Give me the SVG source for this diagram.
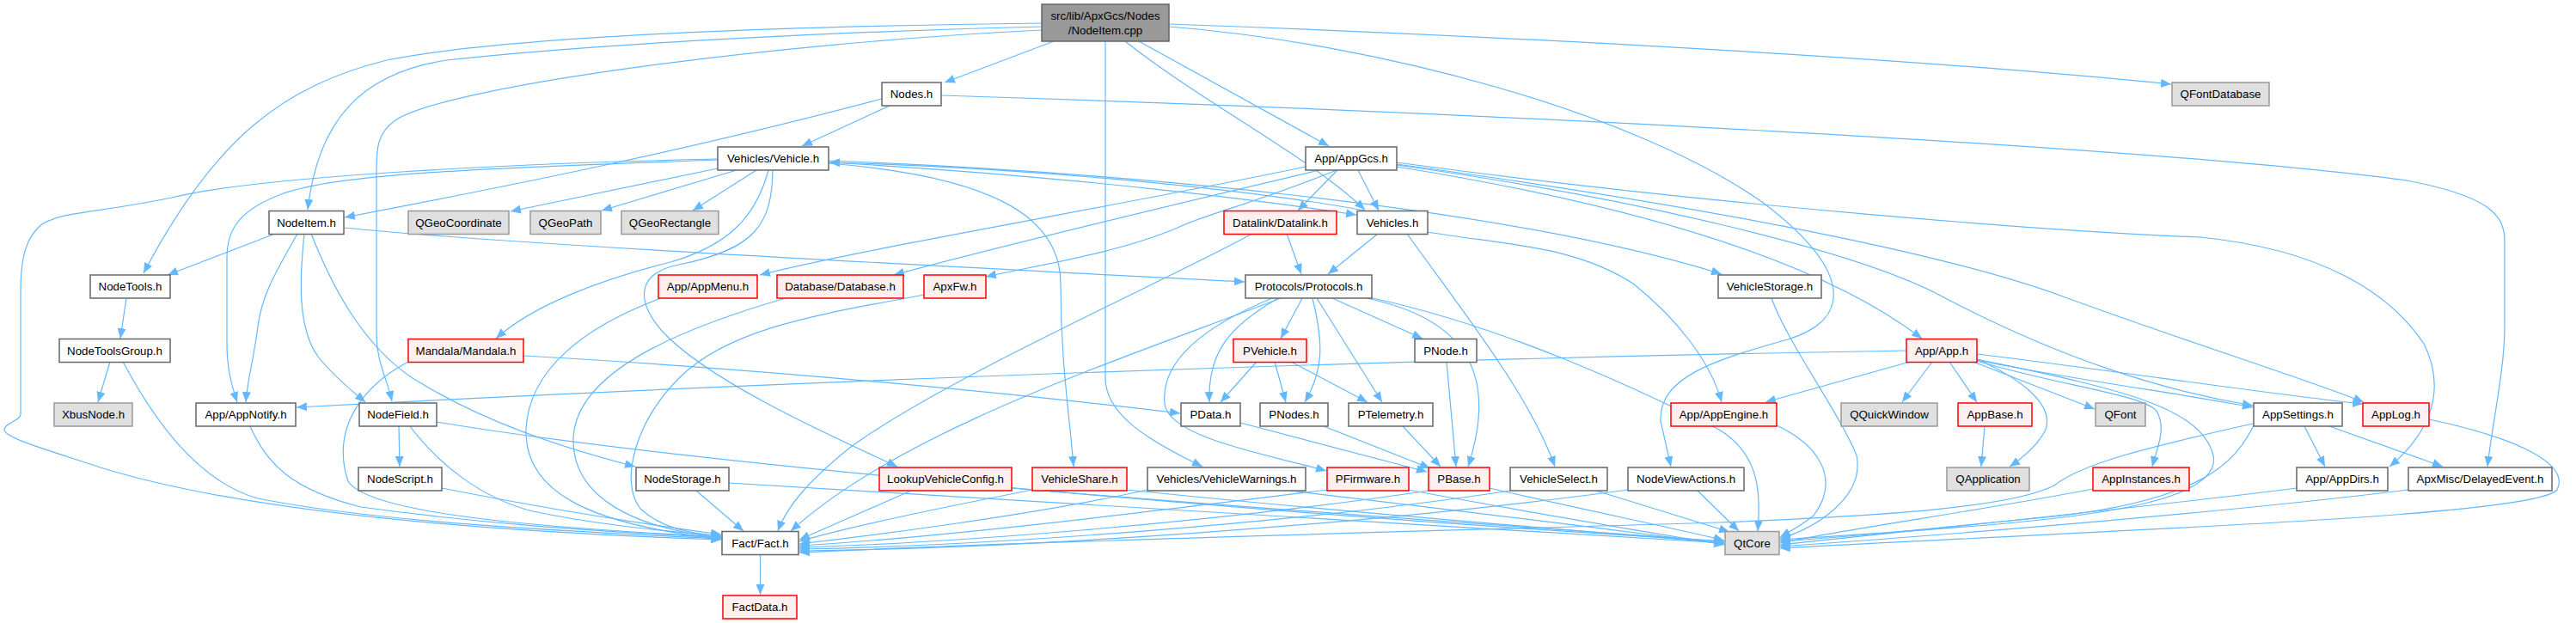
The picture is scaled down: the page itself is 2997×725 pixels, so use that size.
<svg xmlns="http://www.w3.org/2000/svg" width="2997" height="725" viewBox="0 0 2997 725">
<defs>
<marker id="a" markerUnits="userSpaceOnUse" markerWidth="12" markerHeight="10" viewBox="0 0 12 10" refX="12" refY="5" orient="auto"><path d="M0,0 L12,5 L0,10 z" fill="#63b8ff"/></marker>
<style>
rect{fill:#fff;stroke:#666;stroke-width:1.5}
.r rect{fill:#fff0f0;stroke:#ff0000}
.g rect{fill:#e0e0e0;stroke:#999}
.m rect{fill:#999;stroke:#666}
text{font-family:"Liberation Sans",Arial,Helvetica,sans-serif;font-size:13.3px;fill:#000;text-anchor:middle}
#edges path{fill:none;stroke:#63b8ff;stroke-width:1.2;marker-end:url(#a)}
</style>
</defs>
<rect x="0" y="0" width="2997" height="725" style="fill:#fff;stroke:none"/>
<g id="edges">
<path d="M1212,31 C1000,36 700,50 520,70 C420,85 370,140 358,244"/>
<path d="M1212,27 C950,30 600,40 450,70 C330,100 250,160 167,318"/>
<path d="M1212,35 C900,50 520,100 460,140 C438,155 438,175 438,200 L438,390 C438,420 450,440 456,467"/>
<path d="M1226,48 L1099,96"/>
<path d="M1286,48 L1286,440 C1286,480 1330,510 1399,543"/>
<path d="M1309,48 C1400,120 1520,180 1588,244"/>
<path d="M1325,48 L1546,170"/>
<path d="M1360,28 C1700,40 2200,65 2526,98"/>
<path d="M1360,31 C1600,50 1900,130 2050,235 C2150,310 2160,370 2080,395 C1990,420 1930,440 1932,490 L1944,543"/>
<path d="M1026,115 C800,175 600,215 401,253"/>
<path d="M1035,123 L933,170"/>
<path d="M1095,111 C1700,130 2500,170 2800,210 C2895,228 2914,250 2914,280 L2914,380 C2914,430 2900,490 2894,543"/>
<path d="M835,196 L594,246"/>
<path d="M857,198 L700,245"/>
<path d="M880,198 L806,245"/>
<path d="M835,186 C600,195 400,200 330,225 C275,245 264,270 264,300 L264,400 C264,430 270,450 276,468"/>
<path d="M835,185 C600,190 300,205 200,230 C100,250 80,245 50,260 C30,275 24,300 24,340 L24,482 C24,490 5,492 5,500 C5,510 60,525 120,545 C300,600 600,620 839,628"/>
<path d="M894,198 C880,250 850,285 780,305 C700,325 620,355 577,394"/>
<path d="M899,198 C898,260 880,290 790,308 C740,318 740,350 770,385 C820,440 950,500 1044,543"/>
<path d="M964,190 C1150,205 1234,250 1234,330 C1234,420 1244,480 1249,543"/>
<path d="M964,189 C1250,205 1480,235 1578,250"/>
<path d="M1588,245 C1450,220 1200,195 965,189"/>
<path d="M964,187 C1300,200 1750,240 2003,319"/>
<path d="M320,272 L195,320"/>
<path d="M346,272 C325,310 305,340 300,380 C295,420 288,440 286,468"/>
<path d="M354,272 C349,320 345,380 370,415 C390,440 410,455 425,468"/>
<path d="M362,272 C385,330 420,400 480,440 C560,490 650,520 739,543"/>
<path d="M400,265 C600,285 1100,310 1448,328"/>
<path d="M147,347 L140,394"/>
<path d="M128,421 L114,468"/>
<path d="M143,421 C180,490 230,560 300,580 C450,610 700,620 839,627"/>
<path d="M291,496 C310,540 340,570 420,590 C600,615 750,620 839,626"/>
<path d="M464,496 L465,543"/>
<path d="M477,496 C510,540 560,580 620,595 C700,612 780,618 839,624"/>
<path d="M508,491 C800,540 1500,600 2006,630"/>
<path d="M514,568 C650,595 750,610 839,622"/>
<path d="M810,571 L865,618"/>
<path d="M848,562 C1300,590 1700,610 2006,632"/>
<path d="M609,414 C900,430 1200,460 1373,481"/>
<path d="M475,421 C420,450 385,500 405,560 C430,600 650,615 839,625"/>
<path d="M769,347 C680,380 615,430 612,500 C610,570 680,610 839,627"/>
<path d="M914,347 C800,380 670,430 667,510 C665,580 740,615 839,626"/>
<path d="M1075,343 C960,365 850,380 790,440 C740,490 720,560 745,592 C770,615 800,620 839,624"/>
<path d="M1497,272 L1514,319"/>
<path d="M1457,272 C1350,330 1100,440 990,520 C940,560 915,590 905,618"/>
<path d="M1603,272 L1545,319"/>
<path d="M1637,272 C1700,360 1780,460 1809,543"/>
<path d="M1661,270 C1750,285 1830,285 1900,330 C1950,370 1990,420 2003,468"/>
<path d="M1519,194 C1300,240 1000,290 884,320"/>
<path d="M1535,198 C1400,230 1150,290 1040,320"/>
<path d="M1555,198 C1450,240 1400,250 1370,265 C1300,295 1200,310 1147,322"/>
<path d="M1556,198 L1510,245"/>
<path d="M1580,198 L1604,245"/>
<path d="M1625,194 C1850,230 2100,290 2236,394"/>
<path d="M1625,192 C1900,230 2150,290 2250,340 C2400,420 2520,455 2621,472"/>
<path d="M1625,191 C1950,235 2250,290 2400,345 C2550,400 2680,440 2750,468"/>
<path d="M1625,189 C2000,240 2400,270 2560,276 C2700,290 2780,340 2820,400 C2850,460 2820,510 2780,543"/>
<path d="M1480,347 C1400,380 1350,420 1355,470 C1360,510 1480,530 1543,548"/>
<path d="M1490,347 C1300,420 1050,500 920,618"/>
<path d="M1487,347 C1430,380 1405,410 1407,468"/>
<path d="M1515,347 L1490,394"/>
<path d="M1527,347 C1540,400 1540,430 1518,468"/>
<path d="M1532,347 L1608,468"/>
<path d="M1550,347 L1655,394"/>
<path d="M1590,347 C1700,370 1745,430 1708,543"/>
<path d="M1593,346 C1750,380 1900,450 2000,500 C2050,530 2048,580 2045,618"/>
<path d="M1462,421 L1420,468"/>
<path d="M1483,421 L1496,468"/>
<path d="M1502,421 L1591,468"/>
<path d="M1443,492 L1660,549"/>
<path d="M1540,496 L1664,545"/>
<path d="M1632,496 L1676,543"/>
<path d="M1683,421 L1694,543"/>
<path d="M1060,571 L930,628"/>
<path d="M1201,570 C1100,590 1000,610 930,630"/>
<path d="M1335,570 C1200,600 1000,625 930,633"/>
<path d="M1544,570 C1300,600 1100,625 930,635"/>
<path d="M1662,571 C1400,610 1100,632 930,637"/>
<path d="M1757,571 C1500,610 1150,635 930,639"/>
<path d="M1894,570 C1600,610 1200,638 930,641"/>
<path d="M2621,493 C2500,520 2420,540 2390,565 C2340,590 2200,600 2000,608 C1600,620 1200,630 930,643"/>
<path d="M1177,568 C1500,595 1800,615 2006,630"/>
<path d="M1311,570 C1600,600 1850,618 2006,632"/>
<path d="M1500,571 C1750,600 1900,620 2006,633"/>
<path d="M1638,570 C1800,600 1920,620 2006,634"/>
<path d="M1733,568 C1850,595 1950,615 2006,629"/>
<path d="M1857,571 L2012,619"/>
<path d="M1975,571 L2023,618"/>
<path d="M2061,347 C2080,400 2140,480 2160,530 C2170,580 2110,615 2071,627"/>
<path d="M2067,495 C2120,520 2140,560 2110,600 C2095,612 2080,620 2071,625"/>
<path d="M2300,418 C2450,450 2560,470 2575,530 C2585,580 2450,600 2300,612 C2200,620 2120,625 2071,628"/>
<path d="M2622,495 C2600,540 2560,580 2400,600 C2250,615 2150,625 2071,630"/>
<path d="M2435,569 C2300,595 2150,615 2071,632"/>
<path d="M2672,568 C2500,590 2250,615 2071,634"/>
<path d="M2802,570 C2600,595 2300,620 2071,636"/>
<path d="M2826,488 C2930,510 2990,540 2975,570 C2950,600 2500,615 2071,638"/>
<path d="M2218,408 C1500,420 800,450 345,474"/>
<path d="M2222,421 L2054,468"/>
<path d="M2248,421 L2213,468"/>
<path d="M2268,421 L2300,468"/>
<path d="M2296,421 L2437,476"/>
<path d="M2300,418 C2350,440 2390,470 2380,500 C2370,520 2350,535 2338,543"/>
<path d="M2300,420 C2400,450 2500,460 2510,480 C2520,500 2510,520 2504,543"/>
<path d="M2300,419 C2400,440 2550,460 2621,474"/>
<path d="M2300,412 C2450,430 2650,460 2749,470"/>
<path d="M2309,496 L2305,543"/>
<path d="M2681,496 L2705,543"/>
<path d="M2710,496 L2842,543"/>
<path d="M884.5,645.5 L884.5,692"/>
</g>
<g id="node-main" class="m"><rect x="1212" y="5" width="148" height="43"/><text x="1286" y="23">src/lib/ApxGcs/Nodes</text><text x="1286" y="40">/NodeItem.cpp</text></g>
<g id="node-nodes"><rect x="1026" y="96" width="69" height="27"/><text x="1060.5" y="114.3">Nodes.h</text></g>
<g id="node-qfontdatabase" class="g"><rect x="2527" y="96" width="113" height="27"/><text x="2583.5" y="114.3">QFontDatabase</text></g>
<g id="node-vehicle"><rect x="835" y="171" width="129" height="27"/><text x="899.5" y="189.3">Vehicles/Vehicle.h</text></g>
<g id="node-appgcs"><rect x="1519" y="171" width="106" height="27"/><text x="1572" y="189.3">App/AppGcs.h</text></g>
<g id="node-nodeitem"><rect x="313" y="245.5" width="87" height="27"/><text x="356.5" y="263.8">NodeItem.h</text></g>
<g id="node-qgeocoordinate" class="g"><rect x="475" y="245.5" width="117" height="27"/><text x="533.5" y="263.8">QGeoCoordinate</text></g>
<g id="node-qgeopath" class="g"><rect x="617" y="245.5" width="82" height="27"/><text x="658" y="263.8">QGeoPath</text></g>
<g id="node-qgeorectangle" class="g"><rect x="723" y="245.5" width="113" height="27"/><text x="779.5" y="263.8">QGeoRectangle</text></g>
<g id="node-datalink" class="r"><rect x="1424" y="245.5" width="131" height="27"/><text x="1489.5" y="263.8">Datalink/Datalink.h</text></g>
<g id="node-vehicles"><rect x="1579" y="245.5" width="82" height="27"/><text x="1620" y="263.8">Vehicles.h</text></g>
<g id="node-nodetools"><rect x="105" y="320" width="93" height="27"/><text x="151.5" y="338.3">NodeTools.h</text></g>
<g id="node-appmenu" class="r"><rect x="766" y="320" width="115" height="27"/><text x="823.5" y="338.3">App/AppMenu.h</text></g>
<g id="node-database" class="r"><rect x="904" y="320" width="147" height="27"/><text x="977.5" y="338.3">Database/Database.h</text></g>
<g id="node-apxfw" class="r"><rect x="1075" y="320" width="72" height="27"/><text x="1111" y="338.3">ApxFw.h</text></g>
<g id="node-protocols"><rect x="1449" y="320" width="147" height="27"/><text x="1522.5" y="338.3">Protocols/Protocols.h</text></g>
<g id="node-vehiclestorage"><rect x="1999" y="320" width="120" height="27"/><text x="2059" y="338.3">VehicleStorage.h</text></g>
<g id="node-nodetoolsgroup"><rect x="69" y="394.5" width="129" height="27"/><text x="133.5" y="412.8">NodeToolsGroup.h</text></g>
<g id="node-mandala" class="r"><rect x="475" y="394.5" width="134" height="27"/><text x="542" y="412.8">Mandala/Mandala.h</text></g>
<g id="node-pvehicle" class="r"><rect x="1435" y="394.5" width="85" height="27"/><text x="1477.5" y="412.8">PVehicle.h</text></g>
<g id="node-pnode"><rect x="1646" y="394.5" width="72" height="27"/><text x="1682" y="412.8">PNode.h</text></g>
<g id="node-app" class="r"><rect x="2218" y="394.5" width="82" height="27"/><text x="2259" y="412.8">App/App.h</text></g>
<g id="node-xbusnode" class="g"><rect x="63" y="469" width="91" height="27"/><text x="108.5" y="487.3">XbusNode.h</text></g>
<g id="node-appnotify"><rect x="228" y="469" width="116" height="27"/><text x="286" y="487.3">App/AppNotify.h</text></g>
<g id="node-nodefield"><rect x="418" y="469" width="90" height="27"/><text x="463" y="487.3">NodeField.h</text></g>
<g id="node-pdata"><rect x="1374" y="469" width="69" height="27"/><text x="1408.5" y="487.3">PData.h</text></g>
<g id="node-pnodes"><rect x="1466" y="469" width="79" height="27"/><text x="1505.5" y="487.3">PNodes.h</text></g>
<g id="node-ptelemetry"><rect x="1569" y="469" width="98" height="27"/><text x="1618" y="487.3">PTelemetry.h</text></g>
<g id="node-appengine" class="r"><rect x="1944" y="469" width="123" height="27"/><text x="2005.5" y="487.3">App/AppEngine.h</text></g>
<g id="node-qquickwindow" class="g"><rect x="2142" y="469" width="112" height="27"/><text x="2198" y="487.3">QQuickWindow</text></g>
<g id="node-appbase" class="r"><rect x="2278" y="469" width="86" height="27"/><text x="2321" y="487.3">AppBase.h</text></g>
<g id="node-qfont" class="g"><rect x="2438" y="469" width="58" height="27"/><text x="2467" y="487.3">QFont</text></g>
<g id="node-appsettings"><rect x="2622" y="469" width="103" height="27"/><text x="2673.5" y="487.3">AppSettings.h</text></g>
<g id="node-applog" class="r"><rect x="2749" y="469" width="77" height="27"/><text x="2787.5" y="487.3">AppLog.h</text></g>
<g id="node-nodescript"><rect x="417" y="544" width="97" height="27"/><text x="465.5" y="562.3">NodeScript.h</text></g>
<g id="node-nodestorage"><rect x="740" y="544" width="108" height="27"/><text x="794" y="562.3">NodeStorage.h</text></g>
<g id="node-lookupvehicleconfig" class="r"><rect x="1023" y="544" width="154" height="27"/><text x="1100" y="562.3">LookupVehicleConfig.h</text></g>
<g id="node-vehicleshare" class="r"><rect x="1201" y="544" width="110" height="27"/><text x="1256" y="562.3">VehicleShare.h</text></g>
<g id="node-vehiclewarnings"><rect x="1335" y="544" width="184" height="27"/><text x="1427" y="562.3">Vehicles/VehicleWarnings.h</text></g>
<g id="node-pfirmware" class="r"><rect x="1544" y="544" width="95" height="27"/><text x="1591.5" y="562.3">PFirmware.h</text></g>
<g id="node-pbase" class="r"><rect x="1662" y="544" width="71" height="27"/><text x="1697.5" y="562.3">PBase.h</text></g>
<g id="node-vehicleselect"><rect x="1757" y="544" width="113" height="27"/><text x="1813.5" y="562.3">VehicleSelect.h</text></g>
<g id="node-nodeviewactions"><rect x="1894" y="544" width="135" height="27"/><text x="1961.5" y="562.3">NodeViewActions.h</text></g>
<g id="node-qapplication" class="g"><rect x="2265" y="544" width="96" height="27"/><text x="2313" y="562.3">QApplication</text></g>
<g id="node-appinstances" class="r"><rect x="2435" y="544" width="112" height="27"/><text x="2491" y="562.3">AppInstances.h</text></g>
<g id="node-appdirs"><rect x="2672" y="544" width="106" height="27"/><text x="2725" y="562.3">App/AppDirs.h</text></g>
<g id="node-delayedevent"><rect x="2802" y="544" width="167" height="27"/><text x="2885.5" y="562.3">ApxMisc/DelayedEvent.h</text></g>
<g id="node-fact"><rect x="840" y="618.5" width="89" height="27"/><text x="884.5" y="636.8">Fact/Fact.h</text></g>
<g id="node-qtcore" class="g"><rect x="2007" y="618.5" width="63" height="27"/><text x="2038.5" y="636.8">QtCore</text></g>
<g id="node-factdata" class="r"><rect x="841" y="693" width="86" height="27"/><text x="884" y="711.3">FactData.h</text></g>
</svg>
